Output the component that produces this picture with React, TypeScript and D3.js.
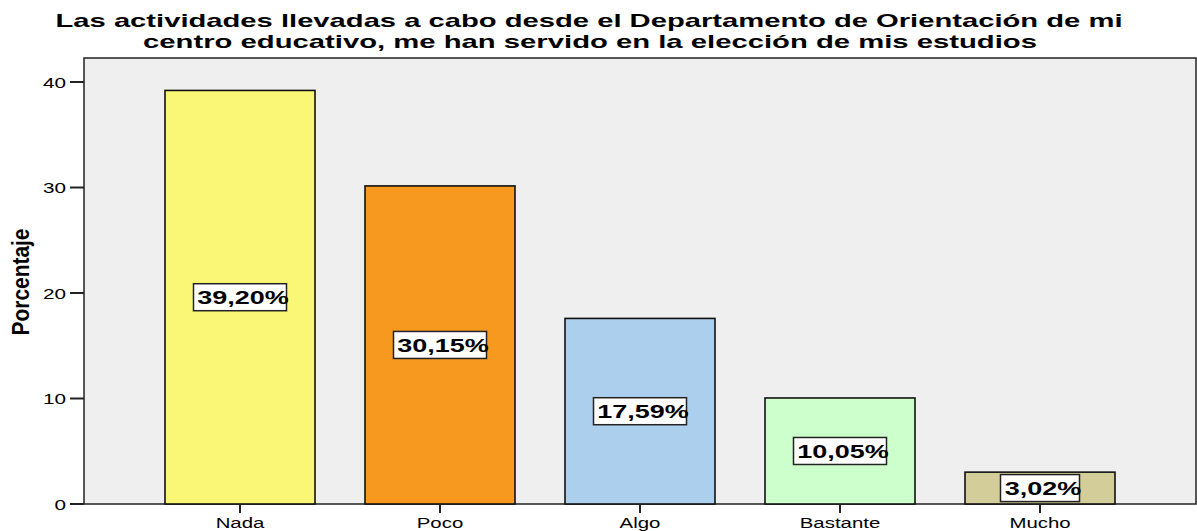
import React from "react";
import * as d3 from "d3";

const categories = ["Nada", "Poco", "Algo", "Bastante", "Mucho"];
const values = [39.2, 30.15, 17.59, 10.05, 3.02];
const valueLabels = ["39,20%", "30,15%", "17,59%", "10,05%", "3,02%"];
const colors = ["#F9F775", "#F7991F", "#ADCFEE", "#CCFFCC", "#D3CE99"];
const yTicks = [0, 10, 20, 30, 40];
const titleLines = [
  "Las actividades llevadas a cabo desde el Departamento de Orientación de mi",
  "centro educativo, me han servido en la elección de mis estudios",
];
const yTitle = "Porcentaje";

const W = 1197;
const H = 531;
const plot = { left: 84, right: 1196, top: 58, bottom: 504 };
const FONT = "'Liberation Sans', Arial, sans-serif";

export default function App() {
  const x = d3
    .scaleBand<string>()
    .domain(categories)
    .range([plot.left, plot.right])
    .paddingInner(0.25)
    .paddingOuter(0.405);
  const y = d3.scaleLinear().domain([0, 40]).range([plot.bottom, 82]);

  return (
    <svg
      width={W}
      height={H}
      style={{ position: "absolute", left: 0, top: 0, background: "#fff" }}
      fontFamily={FONT}
    >
      {/* title */}
      <text x={589} y={27} textAnchor="middle" fontWeight="bold" fontSize={19} textLength={1067} lengthAdjust="spacingAndGlyphs">
        {titleLines[0]}
      </text>
      <text x={590} y={47.5} textAnchor="middle" fontWeight="bold" fontSize={19} textLength={894} lengthAdjust="spacingAndGlyphs">
        {titleLines[1]}
      </text>

      {/* plot background */}
      <rect
        x={plot.left}
        y={plot.top}
        width={plot.right - plot.left}
        height={plot.bottom - plot.top}
        fill="#EFEFEF"
        stroke="#222"
        strokeWidth={1.5}
      />

      {/* bars */}
      {categories.map((c, i) => {
        const bx = x(c)!;
        const bw = x.bandwidth();
        const top = y(values[i]);
        return (
          <rect key={c} x={bx} y={top} width={bw} height={y(0) - top} fill={colors[i]} stroke="#111" strokeWidth={1.6} />
        );
      })}

      {/* value labels */}
      {categories.map((c, i) => {
        const cx = x(c)! + x.bandwidth() / 2;
        const cy = (y(values[i]) + y(0)) / 2;
        const bw = valueLabels[i].length === 6 ? 93 : 79;
        return (
          <g key={c + "l"}>
            <rect x={cx - bw / 2} y={cy - 13.5} width={bw} height={27} fill="#fff" stroke="#222" strokeWidth={1.5} />
            <text
              transform={`translate(${cx + 3},${cy + 7}) scale(1.42,1)`}
              textAnchor="middle"
              fontWeight="bold"
              fontSize={19}
            >
              {valueLabels[i]}
            </text>
          </g>
        );
      })}

      {/* y axis ticks */}
      {yTicks.map((t) => (
        <g key={t}>
          <line x1={70} x2={plot.left} y1={y(t)} y2={y(t)} stroke="#222" strokeWidth={2} />
          <text transform={`translate(66,${y(t) + 5.5}) scale(1.38,1)`} textAnchor="end" fontSize={15}>
            {t}
          </text>
        </g>
      ))}

      {/* x axis ticks */}
      {categories.map((c) => {
        const cx = x(c)! + x.bandwidth() / 2;
        return (
          <g key={c + "t"}>
            <line x1={cx} x2={cx} y1={plot.bottom} y2={513} stroke="#222" strokeWidth={2} />
            <text transform={`translate(${cx},528) scale(1.36,1)`} textAnchor="middle" fontSize={15}>
              {c}
            </text>
          </g>
        );
      })}

      {/* y title */}
      <text
        transform={`translate(29,282) rotate(-90)`}
        textAnchor="middle"
        fontWeight="bold"
        fontSize={24}
        fontFamily="'Liberation Sans Narrow', 'Arial Narrow', 'Liberation Sans', sans-serif"
        textLength={107}
        lengthAdjust="spacingAndGlyphs"
      >
        {yTitle}
      </text>
    </svg>
  );
}
